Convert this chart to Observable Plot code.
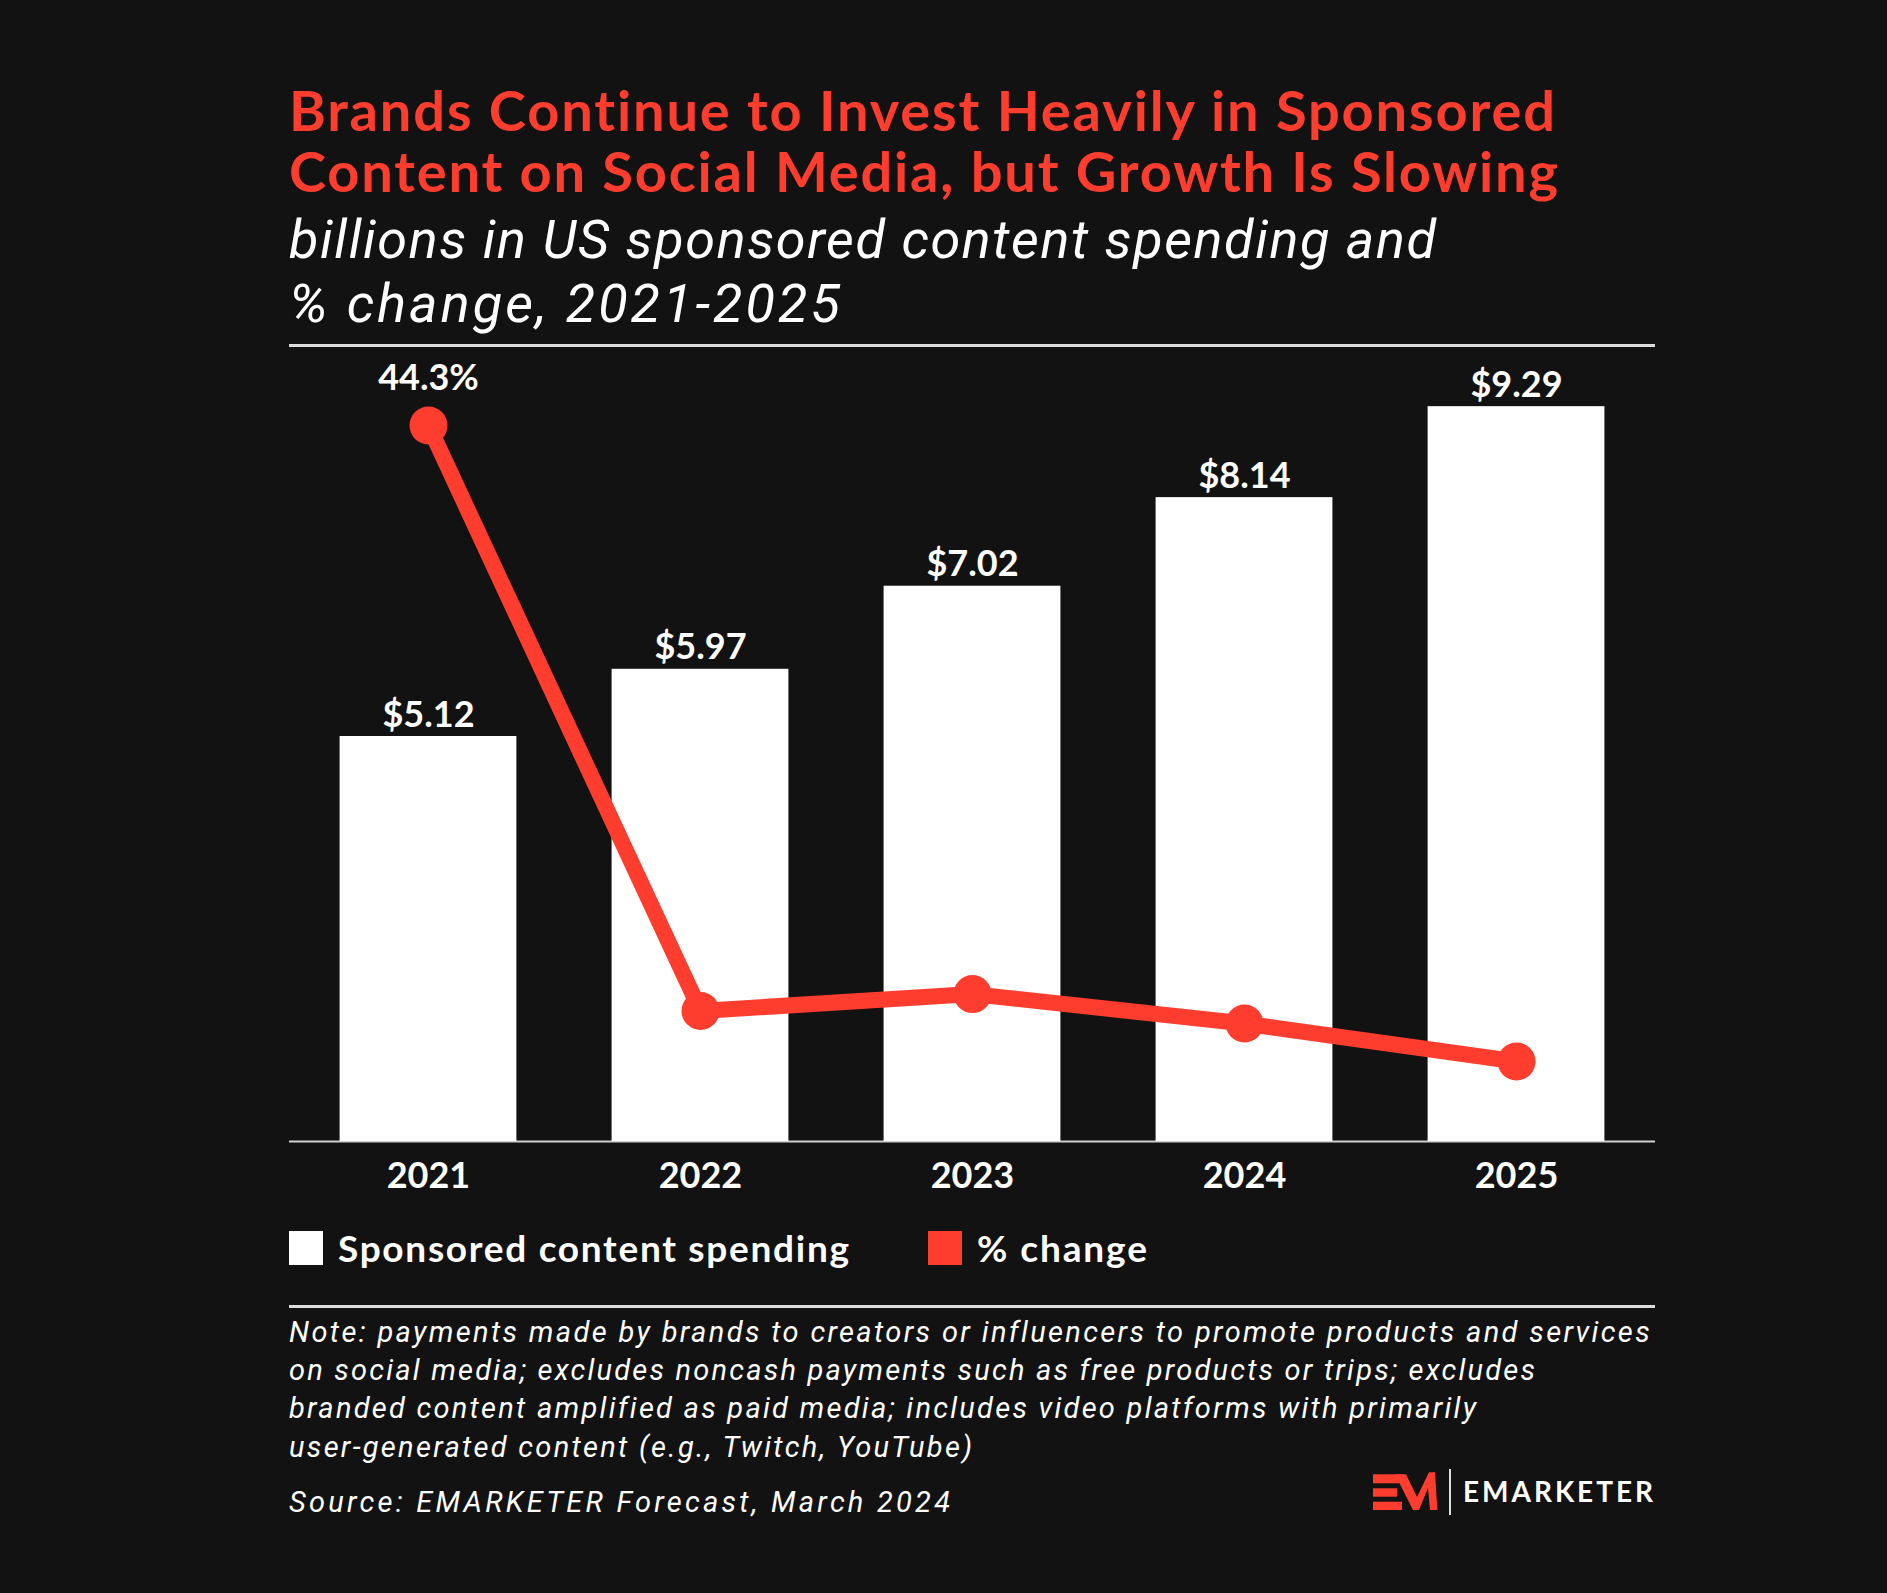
<!DOCTYPE html>
<html>
<head>
<meta charset="utf-8">
<script src="https://cdn.jsdelivr.net/npm/d3@7"></script>
<script src="https://cdn.jsdelivr.net/npm/@observablehq/plot@0.6"></script>
<style>
  html, body { margin: 0; padding: 0; background: #121212; }
  body { width: 1887px; height: 1593px; position: relative; overflow: hidden; font-family: Lato, "Noto Sans", sans-serif; }
  .rule { position: absolute; left: 289px; width: 1366px; height: 3px; background: #dcdcdc; }
  .swatch { position: absolute; width: 34px; height: 34px; }
  #chart { position: absolute; left: 289px; top: 350px; width: 1366px; }
  #chart svg { position: absolute; left: 0; top: 0; }
</style>
</head>
<body>
<div class="rule" style="top:344px"></div>
<div class="rule" style="top:1305px"></div>
<div id="chart"></div>
<div class="swatch" style="left:289px;top:1231px;background:#ffffff"></div>
<div class="swatch" style="left:928px;top:1231px;background:#ff3d2e"></div>
<svg style="position:absolute;left:1373px;top:1468px" width="82" height="50">
  <rect x="0" y="6.3" width="29" height="9" fill="#ff3d2e"/>
  <rect x="0" y="20.3" width="24" height="8.4" fill="#ff3d2e"/>
  <rect x="0" y="33.7" width="29" height="8.3" fill="#ff3d2e"/>
  <polygon points="22,6.3 33,6.3 44,29 56,4.3 62,4.3 64.3,42 57,42 55,20 46,42 40,42" fill="#ff3d2e"/>
  <line x1="77" y1="1" x2="77" y2="47" stroke="#dddddd" stroke-width="2"/>
</svg>
<script>
// ---- data ----
const years = ["2021", "2022", "2023", "2024", "2025"];
const spending = [5.12, 5.97, 7.02, 8.14, 9.29];      // billions USD
const pctChange = [44.3, 16.5, 17.3, 15.9, 14.1];     // % change
const titleLines = ["Brands Continue to Invest Heavily in Sponsored", "Content on Social Media, but Growth Is Slowing"];
const subtitleLines = ["billions in US sponsored content spending and", "% change, 2021-2025"];
const legendLabels = ["Sponsored content spending", "% change"];
const noteLines = [
  "Note: payments made by brands to creators or influencers to promote products and services",
  "on social media; excludes noncash payments such as free products or trips; excludes",
  "branded content amplified as paid media; includes video platforms with primarily",
  "user-generated content (e.g., Twitch, YouTube)"
];
const sourceLine = "Source: EMARKETER Forecast, March 2024";
const logoText = "EMARKETER";

const RED = "#ff3d2e";
const data = years.map((year, i) => ({year, spending: spending[i], pct: pctChange[i]}));

// ---- text placement helper (baseline-positioned, width-fitted) ----
function placeLine(text, {x, baseline, size, weight = 400, style = "normal", color = "#fff", width, family = 'Lato,"Noto Sans",sans-serif'}) {
  const d = document.createElement("div");
  d.style.cssText = `position:absolute;left:${x}px;top:0;white-space:nowrap;font-family:${family};font-size:${size}px;font-weight:${weight};font-style:${style};color:${color};line-height:1`;
  const s = document.createElement("span");
  s.style.cssText = "display:inline-block;line-height:1;vertical-align:baseline";
  s.textContent = text;
  const m = document.createElement("span");
  m.style.cssText = "display:inline-block;width:0;height:0;vertical-align:baseline";
  d.append(s, m);
  document.body.append(d);
  const off = m.getBoundingClientRect().top - d.getBoundingClientRect().top;
  d.style.top = (baseline - off) + "px";
  if (width) {
    const w = s.getBoundingClientRect().width;
    const n = [...text].length;
    s.style.letterSpacing = ((width - w) / (n - 1)) + "px";
  }
}

const ITAL = 'Roboto,"Noto Sans",sans-serif';
placeLine(titleLines[0], {x: 289, baseline: 131, size: 56, weight: 700, color: RED, width: 1267});
placeLine(titleLines[1], {x: 289, baseline: 192, size: 56, weight: 700, color: RED, width: 1269});
placeLine(subtitleLines[0], {x: 289, baseline: 258, size: 54, weight: 400, style: "italic", width: 1147, family: ITAL});
placeLine(subtitleLines[1], {x: 289, baseline: 322, size: 54, weight: 400, style: "italic", width: 551, family: ITAL});
placeLine(legendLabels[0], {x: 338, baseline: 1262, size: 37, weight: 700, width: 511});
placeLine(legendLabels[1], {x: 977, baseline: 1262, size: 37, weight: 700, width: 170});
const noteBase = [1342, 1380, 1418, 1457];
const noteW = [1360, 1246, 1186, 683];
noteLines.forEach((t, i) => placeLine(t, {x: 289, baseline: noteBase[i], size: 29, weight: 400, style: "italic", width: noteW[i], family: ITAL}));
placeLine(sourceLine, {x: 289, baseline: 1512, size: 29, weight: 400, style: "italic", width: 661, family: ITAL});
placeLine(logoText, {x: 1463, baseline: 1502, size: 28, weight: 700, width: 190});

// ---- chart ----
const W = 1366, plotTop = 350, base = 1141, MB = 70;
const H = base - plotTop + MB;
const xOpts = {type: "band", domain: years, paddingInner: 0.35, paddingOuter: 0.186, round: false};
const common = {
  width: W, height: H, marginTop: 0, marginBottom: MB, marginLeft: 0, marginRight: 0,
  style: {background: "transparent", color: "#ffffff", fontFamily: "Lato, 'Noto Sans', sans-serif", fontSize: "36px", fontWeight: 700, overflow: "visible"}
};

const barsPlot = Plot.plot({
  ...common,
  x: {...xOpts, label: null, tickSize: 0, tickPadding: 21},
  y: {domain: [0, 10], axis: null},
  marks: [
    Plot.ruleY([0], {stroke: "#d0d0d0", strokeWidth: 2}),
    Plot.barY(data, {x: "year", y: "spending", fill: "#ffffff"}),
    Plot.text(data, {x: "year", y: "spending", text: d => `$${d.spending.toFixed(2)}`, lineAnchor: "bottom", dy: -10, fill: "#ffffff", fontSize: 36, fontWeight: 700})
  ]
});

const linePlot = Plot.plot({
  ...common,
  x: {...xOpts, axis: null},
  y: {domain: [10.3, 47.86], axis: null},
  marks: [
    Plot.line(data, {x: "year", y: "pct", stroke: RED, strokeWidth: 16, strokeLinejoin: "round"}),
    Plot.dot(data, {x: "year", y: "pct", r: 19, fill: RED, stroke: "none"}),
    Plot.text(data.slice(0, 1), {x: "year", y: "pct", text: d => `${d.pct}%`, lineAnchor: "bottom", dy: -35, fill: "#ffffff", fontSize: 36, fontWeight: 700})
  ]
});

const chart = document.getElementById("chart");
chart.style.height = H + "px";
chart.append(barsPlot, linePlot);
</script>
</body>
</html>
